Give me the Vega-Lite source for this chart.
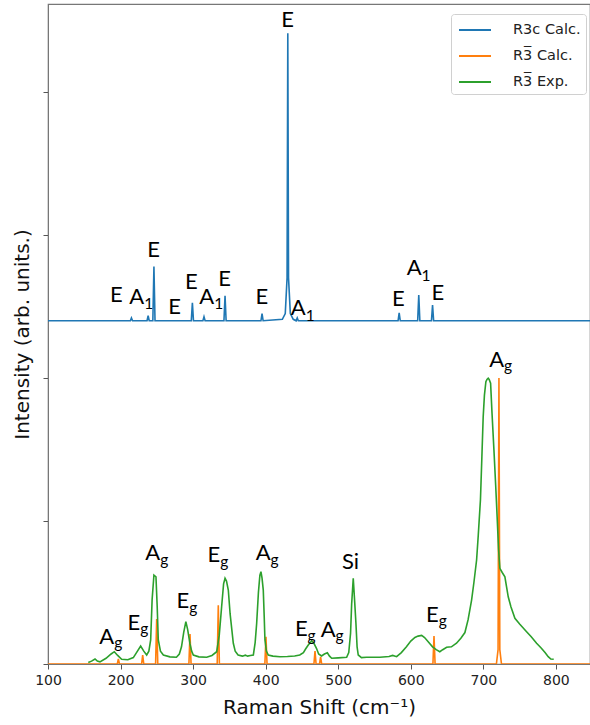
{
  "$schema": "https://vega.github.io/schema/vega-lite/v6.json",
  "width": 542,
  "height": 660,
  "autosize": {"type": "none"},
  "padding": {"left": 48, "top": 4, "right": 0, "bottom": 61},
  "background": "white",
  "config": {
    "view": {"stroke": "#777", "strokeWidth": 1.2},
    "axis": {"grid": false, "domainColor": "#777", "tickColor": "#555", "labelFont": "DejaVu Sans", "titleFont": "DejaVu Sans", "labelColor": "#222", "titleColor": "#111", "titleFontWeight": "normal"}
  },
  "datasets": {
    "spectra": [
      {"s": "R3c Calc.", "x": 100, "y": 2.4}, {"s": "R3c Calc.", "x": 213.5, "y": 2.4}, {"s": "R3c Calc.", "x": 215, "y": 2.42}, {"s": "R3c Calc.", "x": 216.5, "y": 2.4},
      {"s": "R3c Calc.", "x": 236.5, "y": 2.4}, {"s": "R3c Calc.", "x": 238, "y": 2.435}, {"s": "R3c Calc.", "x": 239.5, "y": 2.4},
      {"s": "R3c Calc.", "x": 244.5, "y": 2.4}, {"s": "R3c Calc.", "x": 246, "y": 2.78}, {"s": "R3c Calc.", "x": 247.5, "y": 2.4},
      {"s": "R3c Calc.", "x": 297.5, "y": 2.4}, {"s": "R3c Calc.", "x": 299, "y": 2.526}, {"s": "R3c Calc.", "x": 300.5, "y": 2.4},
      {"s": "R3c Calc.", "x": 313.5, "y": 2.4}, {"s": "R3c Calc.", "x": 315, "y": 2.428}, {"s": "R3c Calc.", "x": 316.5, "y": 2.4},
      {"s": "R3c Calc.", "x": 342.5, "y": 2.4}, {"s": "R3c Calc.", "x": 344, "y": 2.575}, {"s": "R3c Calc.", "x": 345.5, "y": 2.4},
      {"s": "R3c Calc.", "x": 393.5, "y": 2.4}, {"s": "R3c Calc.", "x": 395, "y": 2.45}, {"s": "R3c Calc.", "x": 396.5, "y": 2.4},
      {"s": "R3c Calc.", "x": 423, "y": 2.41}, {"s": "R3c Calc.", "x": 427, "y": 2.45}, {"s": "R3c Calc.", "x": 429.5, "y": 2.7}, {"s": "R3c Calc.", "x": 430.5, "y": 4.41}, {"s": "R3c Calc.", "x": 431.5, "y": 2.7}, {"s": "R3c Calc.", "x": 434, "y": 2.45}, {"s": "R3c Calc.", "x": 438, "y": 2.41},
      {"s": "R3c Calc.", "x": 442, "y": 2.4}, {"s": "R3c Calc.", "x": 443.5, "y": 2.42}, {"s": "R3c Calc.", "x": 445, "y": 2.4},
      {"s": "R3c Calc.", "x": 582.5, "y": 2.4}, {"s": "R3c Calc.", "x": 584, "y": 2.456}, {"s": "R3c Calc.", "x": 585.5, "y": 2.4},
      {"s": "R3c Calc.", "x": 609.5, "y": 2.4}, {"s": "R3c Calc.", "x": 611, "y": 2.58}, {"s": "R3c Calc.", "x": 612.5, "y": 2.4},
      {"s": "R3c Calc.", "x": 628.5, "y": 2.4}, {"s": "R3c Calc.", "x": 630, "y": 2.51}, {"s": "R3c Calc.", "x": 631.5, "y": 2.4},
      {"s": "R3c Calc.", "x": 847, "y": 2.4},

      {"s": "R3\u0305 Calc.", "x": 100, "y": 0},
      {"s": "R3\u0305 Calc.", "x": 195.5, "y": 0}, {"s": "R3\u0305 Calc.", "x": 197, "y": 0.035}, {"s": "R3\u0305 Calc.", "x": 198.5, "y": 0},
      {"s": "R3\u0305 Calc.", "x": 229, "y": 0}, {"s": "R3\u0305 Calc.", "x": 230.5, "y": 0.063}, {"s": "R3\u0305 Calc.", "x": 232, "y": 0},
      {"s": "R3\u0305 Calc.", "x": 248.3, "y": 0}, {"s": "R3\u0305 Calc.", "x": 249.8, "y": 0.315}, {"s": "R3\u0305 Calc.", "x": 251.3, "y": 0},
      {"s": "R3\u0305 Calc.", "x": 294.2, "y": 0}, {"s": "R3\u0305 Calc.", "x": 295.7, "y": 0.21}, {"s": "R3\u0305 Calc.", "x": 297.2, "y": 0},
      {"s": "R3\u0305 Calc.", "x": 333.2, "y": 0}, {"s": "R3\u0305 Calc.", "x": 334.7, "y": 0.41}, {"s": "R3\u0305 Calc.", "x": 336.2, "y": 0},
      {"s": "R3\u0305 Calc.", "x": 398.9, "y": 0}, {"s": "R3\u0305 Calc.", "x": 400.4, "y": 0.19}, {"s": "R3\u0305 Calc.", "x": 401.9, "y": 0},
      {"s": "R3\u0305 Calc.", "x": 466.5, "y": 0}, {"s": "R3\u0305 Calc.", "x": 468, "y": 0.09}, {"s": "R3\u0305 Calc.", "x": 469.5, "y": 0},
      {"s": "R3\u0305 Calc.", "x": 474.2, "y": 0}, {"s": "R3\u0305 Calc.", "x": 475.7, "y": 0.05}, {"s": "R3\u0305 Calc.", "x": 477.2, "y": 0},
      {"s": "R3\u0305 Calc.", "x": 630.5, "y": 0}, {"s": "R3\u0305 Calc.", "x": 632, "y": 0.196}, {"s": "R3\u0305 Calc.", "x": 633.5, "y": 0},
      {"s": "R3\u0305 Calc.", "x": 718, "y": 0}, {"s": "R3\u0305 Calc.", "x": 720.3, "y": 0.1}, {"s": "R3\u0305 Calc.", "x": 721.5, "y": 2.0}, {"s": "R3\u0305 Calc.", "x": 722.7, "y": 0.1}, {"s": "R3\u0305 Calc.", "x": 725, "y": 0},
      {"s": "R3\u0305 Calc.", "x": 847, "y": 0},

      {"s": "R3\u0305 Exp.", "x": 155.5, "y": 0.01}, {"s": "R3\u0305 Exp.", "x": 160, "y": 0.02}, {"s": "R3\u0305 Exp.", "x": 164.8, "y": 0.035}, {"s": "R3\u0305 Exp.", "x": 168, "y": 0.02},
      {"s": "R3\u0305 Exp.", "x": 171.6, "y": 0.015}, {"s": "R3\u0305 Exp.", "x": 180, "y": 0.04}, {"s": "R3\u0305 Exp.", "x": 187, "y": 0.07}, {"s": "R3\u0305 Exp.", "x": 191.4, "y": 0.086},
      {"s": "R3\u0305 Exp.", "x": 196, "y": 0.06}, {"s": "R3\u0305 Exp.", "x": 201.5, "y": 0.033}, {"s": "R3\u0305 Exp.", "x": 210, "y": 0.03}, {"s": "R3\u0305 Exp.", "x": 217.6, "y": 0.045},
      {"s": "R3\u0305 Exp.", "x": 222, "y": 0.08}, {"s": "R3\u0305 Exp.", "x": 227.7, "y": 0.126}, {"s": "R3\u0305 Exp.", "x": 232, "y": 0.09}, {"s": "R3\u0305 Exp.", "x": 236, "y": 0.063},
      {"s": "R3\u0305 Exp.", "x": 239, "y": 0.09}, {"s": "R3\u0305 Exp.", "x": 241.5, "y": 0.168}, {"s": "R3\u0305 Exp.", "x": 243.5, "y": 0.45}, {"s": "R3\u0305 Exp.", "x": 246, "y": 0.622},
      {"s": "R3\u0305 Exp.", "x": 248.8, "y": 0.61}, {"s": "R3\u0305 Exp.", "x": 250.5, "y": 0.4}, {"s": "R3\u0305 Exp.", "x": 252, "y": 0.168}, {"s": "R3\u0305 Exp.", "x": 255, "y": 0.09},
      {"s": "R3\u0305 Exp.", "x": 259, "y": 0.063}, {"s": "R3\u0305 Exp.", "x": 268, "y": 0.05}, {"s": "R3\u0305 Exp.", "x": 277, "y": 0.047}, {"s": "R3\u0305 Exp.", "x": 281, "y": 0.07},
      {"s": "R3\u0305 Exp.", "x": 284, "y": 0.12}, {"s": "R3\u0305 Exp.", "x": 287, "y": 0.22}, {"s": "R3\u0305 Exp.", "x": 290, "y": 0.296}, {"s": "R3\u0305 Exp.", "x": 292.5, "y": 0.24},
      {"s": "R3\u0305 Exp.", "x": 295.7, "y": 0.14}, {"s": "R3\u0305 Exp.", "x": 298, "y": 0.09}, {"s": "R3\u0305 Exp.", "x": 300.3, "y": 0.063}, {"s": "R3\u0305 Exp.", "x": 308, "y": 0.05},
      {"s": "R3\u0305 Exp.", "x": 318.7, "y": 0.047}, {"s": "R3\u0305 Exp.", "x": 326, "y": 0.06}, {"s": "R3\u0305 Exp.", "x": 332.5, "y": 0.086}, {"s": "R3\u0305 Exp.", "x": 336, "y": 0.2},
      {"s": "R3\u0305 Exp.", "x": 339.3, "y": 0.4}, {"s": "R3\u0305 Exp.", "x": 342, "y": 0.56}, {"s": "R3\u0305 Exp.", "x": 344, "y": 0.6}, {"s": "R3\u0305 Exp.", "x": 346, "y": 0.58},
      {"s": "R3\u0305 Exp.", "x": 348.5, "y": 0.517}, {"s": "R3\u0305 Exp.", "x": 351, "y": 0.35}, {"s": "R3\u0305 Exp.", "x": 355.4, "y": 0.145}, {"s": "R3\u0305 Exp.", "x": 358, "y": 0.09},
      {"s": "R3\u0305 Exp.", "x": 362, "y": 0.063}, {"s": "R3\u0305 Exp.", "x": 368, "y": 0.055}, {"s": "R3\u0305 Exp.", "x": 372, "y": 0.062}, {"s": "R3\u0305 Exp.", "x": 375, "y": 0.055},
      {"s": "R3\u0305 Exp.", "x": 379, "y": 0.06}, {"s": "R3\u0305 Exp.", "x": 383, "y": 0.063}, {"s": "R3\u0305 Exp.", "x": 385.5, "y": 0.15}, {"s": "R3\u0305 Exp.", "x": 387.6, "y": 0.285},
      {"s": "R3\u0305 Exp.", "x": 390, "y": 0.5}, {"s": "R3\u0305 Exp.", "x": 392, "y": 0.62}, {"s": "R3\u0305 Exp.", "x": 393.5, "y": 0.645}, {"s": "R3\u0305 Exp.", "x": 395, "y": 0.6},
      {"s": "R3\u0305 Exp.", "x": 396.7, "y": 0.517}, {"s": "R3\u0305 Exp.", "x": 398, "y": 0.33}, {"s": "R3\u0305 Exp.", "x": 399, "y": 0.168}, {"s": "R3\u0305 Exp.", "x": 401, "y": 0.09},
      {"s": "R3\u0305 Exp.", "x": 403.6, "y": 0.063}, {"s": "R3\u0305 Exp.", "x": 410, "y": 0.055}, {"s": "R3\u0305 Exp.", "x": 419.7, "y": 0.051}, {"s": "R3\u0305 Exp.", "x": 430, "y": 0.052},
      {"s": "R3\u0305 Exp.", "x": 440, "y": 0.056}, {"s": "R3\u0305 Exp.", "x": 447, "y": 0.063}, {"s": "R3\u0305 Exp.", "x": 452, "y": 0.08}, {"s": "R3\u0305 Exp.", "x": 455, "y": 0.105},
      {"s": "R3\u0305 Exp.", "x": 458.7, "y": 0.133}, {"s": "R3\u0305 Exp.", "x": 463.4, "y": 0.161}, {"s": "R3\u0305 Exp.", "x": 466, "y": 0.15}, {"s": "R3\u0305 Exp.", "x": 470, "y": 0.11},
      {"s": "R3\u0305 Exp.", "x": 473, "y": 0.07}, {"s": "R3\u0305 Exp.", "x": 477, "y": 0.056}, {"s": "R3\u0305 Exp.", "x": 481, "y": 0.07}, {"s": "R3\u0305 Exp.", "x": 485, "y": 0.079},
      {"s": "R3\u0305 Exp.", "x": 488, "y": 0.055}, {"s": "R3\u0305 Exp.", "x": 491, "y": 0.04}, {"s": "R3\u0305 Exp.", "x": 500, "y": 0.043}, {"s": "R3\u0305 Exp.", "x": 511.6, "y": 0.047},
      {"s": "R3\u0305 Exp.", "x": 514.5, "y": 0.08}, {"s": "R3\u0305 Exp.", "x": 517, "y": 0.215}, {"s": "R3\u0305 Exp.", "x": 518.5, "y": 0.42}, {"s": "R3\u0305 Exp.", "x": 520.7, "y": 0.6},
      {"s": "R3\u0305 Exp.", "x": 522.5, "y": 0.45}, {"s": "R3\u0305 Exp.", "x": 524.4, "y": 0.285}, {"s": "R3\u0305 Exp.", "x": 526, "y": 0.12}, {"s": "R3\u0305 Exp.", "x": 527.6, "y": 0.063},
      {"s": "R3\u0305 Exp.", "x": 532, "y": 0.045}, {"s": "R3\u0305 Exp.", "x": 539, "y": 0.047}, {"s": "R3\u0305 Exp.", "x": 557.5, "y": 0.047}, {"s": "R3\u0305 Exp.", "x": 570, "y": 0.052},
      {"s": "R3\u0305 Exp.", "x": 575, "y": 0.06}, {"s": "R3\u0305 Exp.", "x": 580.5, "y": 0.051}, {"s": "R3\u0305 Exp.", "x": 587, "y": 0.08}, {"s": "R3\u0305 Exp.", "x": 594, "y": 0.12},
      {"s": "R3\u0305 Exp.", "x": 600, "y": 0.16}, {"s": "R3\u0305 Exp.", "x": 605.7, "y": 0.186}, {"s": "R3\u0305 Exp.", "x": 610, "y": 0.195}, {"s": "R3\u0305 Exp.", "x": 615, "y": 0.2},
      {"s": "R3\u0305 Exp.", "x": 619, "y": 0.185}, {"s": "R3\u0305 Exp.", "x": 624, "y": 0.156}, {"s": "R3\u0305 Exp.", "x": 630, "y": 0.12}, {"s": "R3\u0305 Exp.", "x": 635, "y": 0.1},
      {"s": "R3\u0305 Exp.", "x": 640, "y": 0.086}, {"s": "R3\u0305 Exp.", "x": 644, "y": 0.1}, {"s": "R3\u0305 Exp.", "x": 649.4, "y": 0.117}, {"s": "R3\u0305 Exp.", "x": 656, "y": 0.12},
      {"s": "R3\u0305 Exp.", "x": 663, "y": 0.145}, {"s": "R3\u0305 Exp.", "x": 669, "y": 0.18}, {"s": "R3\u0305 Exp.", "x": 674.6, "y": 0.22}, {"s": "R3\u0305 Exp.", "x": 679, "y": 0.31},
      {"s": "R3\u0305 Exp.", "x": 683.8, "y": 0.447}, {"s": "R3\u0305 Exp.", "x": 687, "y": 0.57}, {"s": "R3\u0305 Exp.", "x": 690.7, "y": 0.727}, {"s": "R3\u0305 Exp.", "x": 693, "y": 0.9},
      {"s": "R3\u0305 Exp.", "x": 696, "y": 1.147}, {"s": "R3\u0305 Exp.", "x": 698, "y": 1.45}, {"s": "R3\u0305 Exp.", "x": 699.8, "y": 1.73}, {"s": "R3\u0305 Exp.", "x": 701.5, "y": 1.88},
      {"s": "R3\u0305 Exp.", "x": 703.5, "y": 1.974}, {"s": "R3\u0305 Exp.", "x": 705, "y": 1.99}, {"s": "R3\u0305 Exp.", "x": 706.7, "y": 1.998}, {"s": "R3\u0305 Exp.", "x": 708, "y": 1.99},
      {"s": "R3\u0305 Exp.", "x": 710, "y": 1.963}, {"s": "R3\u0305 Exp.", "x": 712, "y": 1.75}, {"s": "R3\u0305 Exp.", "x": 714.6, "y": 1.497}, {"s": "R3\u0305 Exp.", "x": 717, "y": 1.25},
      {"s": "R3\u0305 Exp.", "x": 719, "y": 1.03}, {"s": "R3\u0305 Exp.", "x": 721, "y": 0.8}, {"s": "R3\u0305 Exp.", "x": 722.8, "y": 0.669}, {"s": "R3\u0305 Exp.", "x": 726, "y": 0.64},
      {"s": "R3\u0305 Exp.", "x": 729.7, "y": 0.61}, {"s": "R3\u0305 Exp.", "x": 732, "y": 0.54}, {"s": "R3\u0305 Exp.", "x": 734.3, "y": 0.47}, {"s": "R3\u0305 Exp.", "x": 738, "y": 0.4},
      {"s": "R3\u0305 Exp.", "x": 743.5, "y": 0.32}, {"s": "R3\u0305 Exp.", "x": 750, "y": 0.28}, {"s": "R3\u0305 Exp.", "x": 759.6, "y": 0.226}, {"s": "R3\u0305 Exp.", "x": 766, "y": 0.19},
      {"s": "R3\u0305 Exp.", "x": 773.4, "y": 0.145}, {"s": "R3\u0305 Exp.", "x": 780, "y": 0.11}, {"s": "R3\u0305 Exp.", "x": 785, "y": 0.08}, {"s": "R3\u0305 Exp.", "x": 789.4, "y": 0.051},
      {"s": "R3\u0305 Exp.", "x": 793, "y": 0.035}, {"s": "R3\u0305 Exp.", "x": 797, "y": 0.033}
    ],
    "labels": [
      {"x": 191.3, "y": 0.19, "t": "A", "sub": "g", "k": "g"},
      {"x": 227.2, "y": 0.289, "t": "E", "sub": "g", "k": "g"},
      {"x": 254.6, "y": 0.774, "t": "A", "sub": "g", "k": "g"},
      {"x": 294.8, "y": 0.44, "t": "E", "sub": "g", "k": "g"},
      {"x": 337.4, "y": 0.762, "t": "E", "sub": "g", "k": "g"},
      {"x": 406.8, "y": 0.774, "t": "A", "sub": "g", "k": "g"},
      {"x": 457.8, "y": 0.243, "t": "E", "sub": "g", "k": "g"},
      {"x": 496.3, "y": 0.238, "t": "A", "sub": "g", "k": "g"},
      {"x": 528.8, "y": 0.715, "t": "Si", "sub": "", "k": "n"},
      {"x": 638.4, "y": 0.343, "t": "E", "sub": "g", "k": "g"},
      {"x": 728.6, "y": 2.126, "t": "A", "sub": "g", "k": "g"},
      {"x": 203, "y": 2.58, "t": "E", "sub": "", "k": "n"},
      {"x": 232.5, "y": 2.569, "t": "A", "sub": "1", "k": "1"},
      {"x": 254.3, "y": 2.895, "t": "E", "sub": "", "k": "n"},
      {"x": 283.3, "y": 2.499, "t": "E", "sub": "", "k": "n"},
      {"x": 306.3, "y": 2.673, "t": "E", "sub": "", "k": "n"},
      {"x": 329, "y": 2.569, "t": "A", "sub": "1", "k": "1"},
      {"x": 352.2, "y": 2.69, "t": "E", "sub": "", "k": "n"},
      {"x": 403.6, "y": 2.569, "t": "E", "sub": "", "k": "n"},
      {"x": 439, "y": 4.503, "t": "E", "sub": "", "k": "n"},
      {"x": 455.1, "y": 2.487, "t": "A", "sub": "1", "k": "1"},
      {"x": 591.8, "y": 2.55, "t": "E", "sub": "", "k": "n"},
      {"x": 614.9, "y": 2.767, "t": "A", "sub": "1", "k": "1"},
      {"x": 646.1, "y": 2.592, "t": "E", "sub": "", "k": "n"}
    ]
  },
  "layer": [
    {
      "data": {"name": "spectra"},
      "mark": {"type": "line", "strokeWidth": 1.6, "clip": true},
      "encoding": {
        "x": {"field": "x", "type": "quantitative", "scale": {"domain": [100, 847], "nice": false, "zero": false},
          "axis": {"title": "Raman Shift (cm\u207b\u00b9)", "values": [100, 150, 200, 250, 300, 350, 400, 450, 500, 550, 600, 650, 700, 750, 800], "labelExpr": "datum.value % 100 === 0 ? datum.label : ''", "labelFontSize": 14, "titleFontSize": 20, "tickSize": 5, "labelPadding": 4, "titlePadding": 10, "labelFlush": false}},
        "y": {"field": "y", "type": "quantitative", "scale": {"domain": [0, 4.615], "nice": false},
          "axis": {"title": "Intensity (arb. units.)", "values": [0, 1, 2, 3, 4], "labels": false, "titleFontSize": 20, "tickSize": 5, "titlePadding": 10}},
        "color": {"field": "s", "type": "nominal", "sort": null,
          "scale": {"domain": ["R3c Calc.", "R3\u0305 Calc.", "R3\u0305 Exp."], "range": ["#1f77b4", "#ff7f0e", "#2ca02c"]},
          "legend": {"title": null, "orient": "none", "legendX": 403, "legendY": 10, "symbolType": "M-0.8,0H2.4", "symbolSize": 400, "symbolStrokeWidth": 2, "labelFont": "DejaVu Sans", "labelFontSize": 14.5, "labelColor": "#222", "labelOffset": 35, "rowPadding": 8, "padding": 5, "strokeColor": "#d0d0d0", "cornerRadius": 3, "fillColor": "white"}}
      }
    },
    {
      "data": {"name": "labels"},
      "mark": {"type": "text", "align": "right", "baseline": "middle", "font": "Lato", "fontSize": 22, "color": "black"},
      "encoding": {
        "x": {"field": "x", "type": "quantitative"},
        "y": {"field": "y", "type": "quantitative"},
        "text": {"field": "t"}
      }
    },
    {
      "data": {"name": "labels"},
      "transform": [{"filter": "datum.k === 'g'"}],
      "mark": {"type": "text", "align": "left", "baseline": "middle", "font": "Lato", "fontSize": 15.5, "color": "black", "dy": 6.5},
      "encoding": {
        "x": {"field": "x", "type": "quantitative"},
        "y": {"field": "y", "type": "quantitative"},
        "text": {"field": "sub"}
      }
    },
    {
      "data": {"name": "labels"},
      "transform": [{"filter": "datum.k === '1'"}],
      "mark": {"type": "text", "align": "left", "baseline": "middle", "font": "Lato", "fontSize": 15.5, "color": "black", "dy": 7.5},
      "encoding": {
        "x": {"field": "x", "type": "quantitative"},
        "y": {"field": "y", "type": "quantitative"},
        "text": {"field": "sub"}
      }
    }
  ]
}
